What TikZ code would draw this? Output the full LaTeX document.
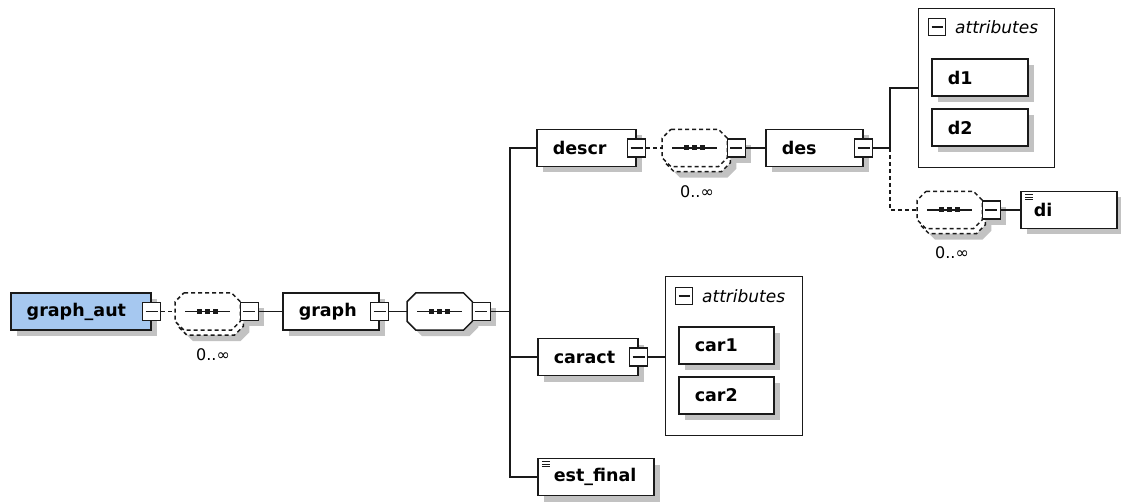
\documentclass[tikz,border=0pt]{standalone}
\usepackage{fontspec}
\newfontfamily\xsdfont{DejaVu Sans}
\usetikzlibrary{shadows,positioning}
\definecolor{rootblue}{HTML}{A6C8F0}
\definecolor{shadowgray}{HTML}{C2C2C2}
\definecolor{linedark}{HTML}{1A1A1A}
\tikzset{
	base/.style={draw=linedark, line width=1.5pt, fill=white},
	shade/.style={drop shadow={shadow xshift=6pt, shadow yshift=-6pt, fill=shadowgray, opacity=1}},
	elem/.style={base, shade, rectangle, minimum height=37pt, inner xsep=16pt, inner ysep=0pt, align=left, font=\xsdfont\bfseries\fontsize{17.5}{17.5}\selectfont},
	simple/.style={path picture={
		\foreach \i in {0,1,2}
			\draw[line width=0.8pt] ([xshift=4pt, yshift={-(3+2.5*\i)}]path picture bounding box.north west) -- ++(8pt,0);}},
	minus/.style={base, rectangle, minimum size=18pt, inner sep=0pt, path picture={
		\draw[line width=1.2pt] ([xshift=3pt]path picture bounding box.west) -- ([xshift=-3pt]path picture bounding box.east);}},
	compbox/.style={rectangle, minimum width=65pt, minimum height=37pt, inner sep=0pt},
	opt/.style={dash pattern=on 4pt off 3pt},
	attrbox/.style={draw=linedark, line width=1.3pt, rectangle, inner sep=0pt, anchor=north west},
	attrtitle/.style={inner sep=0pt, anchor=west, font=\xsdfont\itshape\fontsize{17}{17}\selectfont},
	mult/.style={inner sep=0pt, font=\xsdfont\fontsize{16}{16}\selectfont},
	link/.style={draw=linedark, line width=1.5pt}
}
% octagon round a compositor node
\newcommand\compshape[2][]{%
	\draw[base,#1] ([xshift=9pt]#2.north west) -- ([xshift=-9pt]#2.north east) -- ([yshift=-9pt]#2.north east)
		-- ([yshift=9pt]#2.south east) -- ([xshift=-9pt]#2.south east) -- ([xshift=9pt]#2.south west)
		-- ([yshift=9pt]#2.south west) -- ([yshift=-9pt]#2.north west) -- cycle;}
% sequence symbol
\newcommand\seqdots[1]{%
	\draw[line width=1.4pt, draw=linedark] ([xshift=10pt]#1.west) -- ([xshift=-10pt]#1.east);
	\foreach \dx in {-8,0,8}
		\fill[linedark] ([xshift=\dx pt]#1.center) +(-2.5pt,-2.5pt) rectangle +(2.5pt,2.5pt);}
\begin{document}
\begin{tikzpicture}[x=1pt,y=-1pt]
	\useasboundingbox (0,0) rectangle (1121,502);
	% root and first compositor
	\node[elem, fill=rootblue, text width=108pt, anchor=west] (graphaut) at (10,311.5) {graph\_aut};
	\node[minus] (graphautm) at (graphaut.east) {};
	\node[compbox, anchor=west] (seq1b) at (178,316.5) {};
	\compshape[opt,shade]{seq1b}
	\node[compbox, anchor=west] (seq1) at (175,311.5) {};
	\compshape[opt]{seq1}
	\seqdots{seq1}
	\node[minus, shade] (seq1m) at ([xshift=9pt]seq1.east) {};
	\node[mult] (seq1n) at (213,355) {0..∞};
	\node[elem, text width=64pt, anchor=west] (graph) at (282,311.5) {graph};
	\node[minus] (graphm) at (graph.east) {};
	\node[compbox, anchor=west] (seq2) at (407,311.5) {};
	\compshape[shade]{seq2}
	\seqdots{seq2}
	\node[minus, shade] (seq2m) at ([xshift=9pt]seq2.east) {};
	\coordinate (fork) at (510,311.5);
	% children of graph
	\node[elem, text width=67pt, anchor=west] (descr) at (536,148) {descr};
	\node[minus] (descrm) at (descr.east) {};
	\node[elem, text width=68pt, anchor=west] (caract) at (537,357) {caract};
	\node[minus] (caractm) at (caract.east) {};
	\node[elem, simple, text width=84pt, anchor=west] (estfinal) at (537,477) {est\_final};
	% descr branch
	\node[compbox, anchor=west] (seq3b) at (665,153) {};
	\compshape[opt,shade]{seq3b}
	\node[compbox, anchor=west] (seq3) at (662,148) {};
	\compshape[opt]{seq3}
	\seqdots{seq3}
	\node[minus, shade] (seq3m) at ([xshift=9pt]seq3.east) {};
	\node[mult] (seq3n) at (697,192) {0..∞};
	\node[elem, text width=65pt, anchor=west] (des) at (765,148) {des};
	\node[minus] (desm) at (des.east) {};
	\coordinate (fork2) at (890,148);
	\node[attrbox, minimum width=136pt, minimum height=159pt] (attrs1) at (918,8) {};
	\node[minus, minimum size=17pt, line width=1.1pt] (attrs1m) at (937,27) {};
	\node[attrtitle] (attrs1t) at (955,27) {attributes};
	\node[elem, text width=64pt, anchor=west] (d1) at (931,77.5) {d1};
	\node[elem, text width=64pt, anchor=west] (d2) at (931,127.5) {d2};
	\node[compbox, anchor=west] (seq4b) at (920,215) {};
	\compshape[opt,shade]{seq4b}
	\node[compbox, anchor=west] (seq4) at (917,210) {};
	\compshape[opt]{seq4}
	\seqdots{seq4}
	\node[minus, shade] (seq4m) at ([xshift=9pt]seq4.east) {};
	\node[mult] (seq4n) at (952,253) {0..∞};
	\node[elem, simple, inner xsep=13pt, text width=70pt, anchor=west] (di) at (1020,210) {di};
	% caract attributes
	\node[attrbox, minimum width=137pt, minimum height=159pt] (attrs2) at (665,276) {};
	\node[minus, minimum size=17pt, line width=1.1pt] (attrs2m) at (684,296) {};
	\node[attrtitle] (attrs2t) at (702,296) {attributes};
	\node[elem, text width=63pt, anchor=west] (car1) at (678,345.5) {car1};
	\node[elem, text width=63pt, anchor=west] (car2) at (678,395.5) {car2};
	% connectors
	\draw[link, opt] (graphautm) -- (seq1);
	\draw[link] (seq1m) -- (graph);
	\draw[link] (graphm) -- (seq2);
	\draw[link] (seq2m) -- (fork);
	\draw[link] (fork) |- (descr.west);
	\draw[link] (fork) |- (caract.west);
	\draw[link] (fork) |- (estfinal.west);
	\draw[link, opt] (descrm) -- (seq3);
	\draw[link] (seq3m) -- (des);
	\draw[link] (desm) -- (fork2) |- (attrs1.west);
	\draw[link, opt] (fork2) |- (seq4.west);
	\draw[link] (seq4m) -- (di);
	\draw[link] (caractm) -- (attrs2.west |- caractm.center);
\end{tikzpicture}
\end{document}
